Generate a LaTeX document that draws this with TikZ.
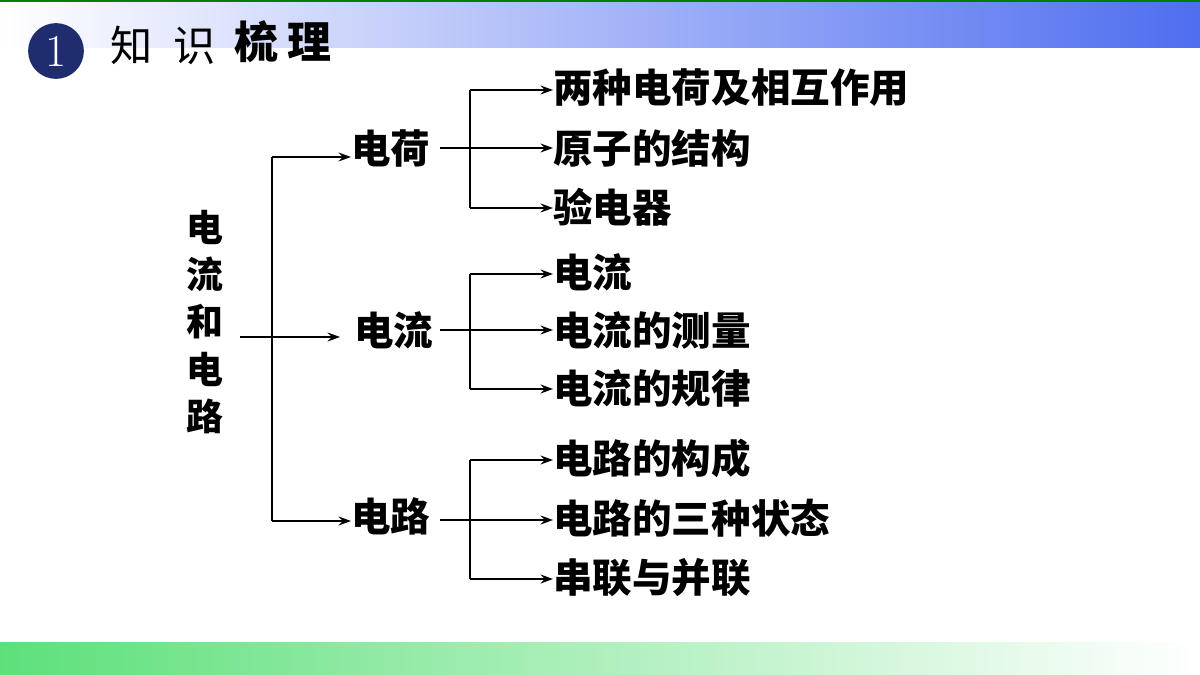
\documentclass[tikz,border=0pt]{standalone}
\usepackage{fontspec}
\newfontfamily\cjk{Noto Sans CJK SC}
\usetikzlibrary{arrows.meta}
\definecolor{hb}{HTML}{4F6EF0}
\definecolor{gb}{HTML}{5DE07A}
\definecolor{nav}{HTML}{1F2D6E}
\begin{document}
\begin{tikzpicture}[x=0.02cm,y=-0.02cm,
  t/.style={font=\cjk\bfseries\fontsize{22.5}{26}\selectfont,inner sep=0pt},
  leaf/.style={t,anchor=west},
  ar/.style={-{Stealth[length=7pt,width=5pt]},line width=1.2pt},
  ln/.style={line width=1.2pt}]
\useasboundingbox (0,0) rectangle (1200,675);
\shade[left color=white,right color=hb] (0,2) rectangle (1200,48);
\fill[green!50!black] (0,0) rectangle (1200,2);
\shade[left color=gb,right color=white] (0,642) rectangle (1200,675);
\node[circle,fill=nav,minimum size=56pt*0.02/0.0352778,inner sep=0pt,text=white,font=\fontsize{26}{28}\selectfont] (c) at (56,51) {1};
\node[anchor=west,inner sep=0pt,font=\cjk\fontsize{24}{26}\selectfont] (h1) at (110,45) {知\hspace{12pt}识};
\node[anchor=west,inner sep=0pt,font=\cjk\bfseries\fontsize{25}{28}\selectfont] (h2) at (234,42) {梳\hspace{5pt}理};
\node[t,align=center,font=\cjk\bfseries\fontsize{21}{24}\selectfont] (r) at (205,322) {电\\[3pt]流\\[3pt]和\\[3pt]电\\[3pt]路};
\coordinate (rj) at (272,337);
\node[t,anchor=west] (m1) at (351,148) {电荷};
\node[t,anchor=west] (m2) at (354,330) {电流};
\node[t,anchor=west] (m3) at (351,516) {电路};
\draw[ln] (240,337) -- (rj);
\draw[ar] (rj) -- (340,337);
\draw[ln] (272,157) -- (272,521);
\draw[ar] (272,157) -- (m1.west|-0,157);
\draw[ar] (272,521) -- (m3.west|-0,521);
\foreach \m/\y/\a/\b/\c/\ya/\yb/\yc in {
  1/148/两种电荷及相互作用/原子的结构/验电器/88/148/207,
  2/330/电流/电流的测量/电流的规律/272/330/388,
  3/520/电路的构成/电路的三种状态/串联与并联/458/518/578}{
  \node[leaf] (a\m) at (553,\ya) {\a};
  \node[leaf] (b\m) at (553,\yb) {\b};
  \node[leaf] (c\m) at (553,\yc) {\c};
  \draw[ln] (440,\y) -- (470,\y);
  \draw[ln] (470,\ya+2) -- (470,\yc+1);
  \draw[ar] (470,\ya+2) -- (a\m.west|-0,\ya+2);
  \draw[ar] (470,\y) -- (b\m.west|-0,\y);
  \draw[ar] (470,\yc+1) -- (c\m.west|-0,\yc+1);
}
\end{tikzpicture}
\end{document}
